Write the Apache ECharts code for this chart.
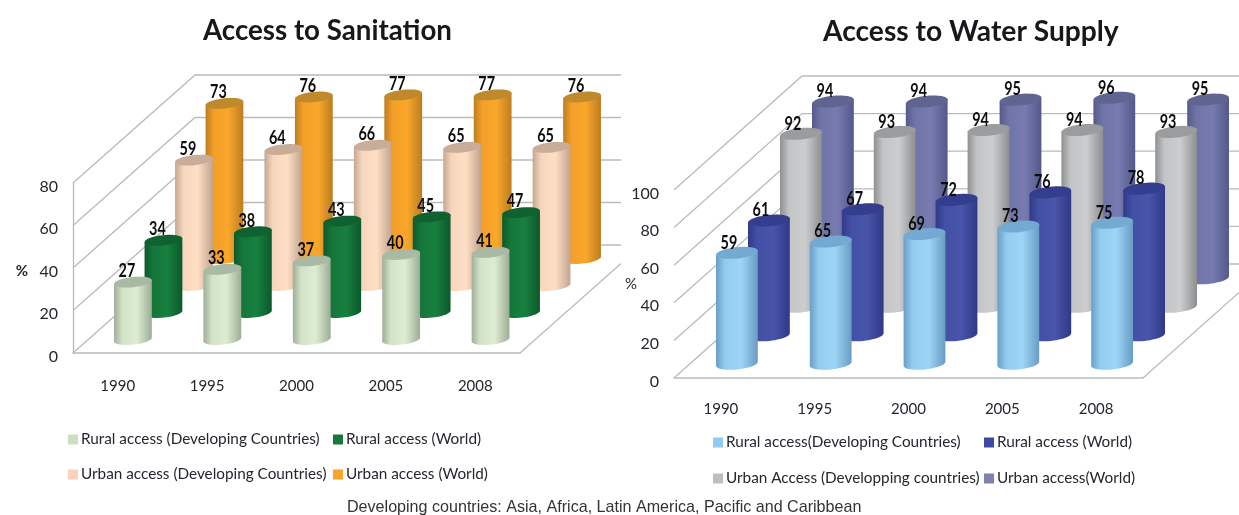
<!DOCTYPE html>
<html>
<head>
<meta charset="utf-8">
<style>html,body{margin:0;padding:0;background:#fff}#chart{width:1239px;height:515px}</style>
<script src="https://cdn.jsdelivr.net/npm/echarts@6/dist/echarts.min.js"></script>
</head>
<body>
<div id="chart"></div>
<script>
// Years shared by both panels
const years = ['1990', '1995', '2000', '2005', '2008'];

// Access to Sanitation (%)
const sanitationRuralDeveloping = [27, 33, 37, 40, 41];
const sanitationRuralWorld = [34, 38, 43, 45, 47];
const sanitationUrbanDeveloping = [59, 64, 66, 65, 65];
const sanitationUrbanWorld = [73, 76, 77, 77, 76];
const sanitationTicks = [0, 20, 40, 60, 80];

// Access to Water Supply (%)
const waterRuralDeveloping = [59, 65, 69, 73, 75];
const waterRuralWorld = [61, 67, 72, 76, 78];
const waterUrbanDeveloping = [92, 93, 94, 94, 93];
const waterUrbanWorld = [94, 94, 95, 96, 95];
const waterTicks = [0, 20, 40, 60, 80, 100];

const FONT = 'Lato, Carlito, sans-serif';
const INK = '#23272e';
const FRAME = '#b9bbbd';
const TILT = 6 * Math.PI / 180;

// Oblique projection of one panel: the depth vector of the floor, its row count and column size
const panels = [
  {
    depthX: 122, depthY: -108, rows: 4, radius: 0.2125, wallEnd: 621,
    labelDx: -6, labelDy: -11,
    grid: {left: 73, top: 183, width: 447, height: 170},
    max: 80, ticks: sanitationTicks, showAxisLine: true, nameGap: 45,
    series: [
      {name: 'Urban access (World)', row: 3, values: sanitationUrbanWorld, swatch: '#f9a32b',
       ramp: ['#bd7e20', '#f39f29', '#faa72b', '#bc7d20'], cap: '#c08a2c'},
      {name: 'Urban access (Developing Countries)', row: 2, values: sanitationUrbanDeveloping, swatch: '#fcd3b9',
       ramp: ['#c5a691', '#f6d6bc', '#fedfc4', '#c2a48f'], cap: '#c9ad99'},
      {name: 'Rural access (World)', row: 1, values: sanitationRuralWorld, swatch: '#15793b',
       ramp: ['#0d5a2c', '#15763a', '#17803f', '#0d582b'], cap: '#0f6230'},
      {name: 'Rural access (Developing Countries)', row: 0, values: sanitationRuralDeveloping, swatch: '#c9dfbd',
       ramp: ['#9fae98', '#d2e3c7', '#deedd2', '#9dac96'], cap: '#a9b9a3'}
    ],
    legend: [
      {name: 'Rural access (Developing Countries)', left: 68, top: 432, color: '#c9dfbd'},
      {name: 'Rural access (World)', left: 333, top: 432, color: '#15793b'},
      {name: 'Urban access (Developing Countries)', left: 68, top: 467, color: '#fcd3b9'},
      {name: 'Urban access (World)', left: 333, top: 467, color: '#f9a32b'}
    ]
  },
  {
    depthX: 128, depthY: -114, rows: 4, radius: 0.224, wallEnd: 1239,
    labelDx: -8, labelDy: -10,
    grid: {left: 674, top: 190, width: 469, height: 188},
    max: 100, ticks: waterTicks, showAxisLine: false, nameGap: 37,
    series: [
      {name: 'Urban access(World)', row: 3, values: waterUrbanWorld, swatch: '#7f81ad',
       ramp: ['#55598a', '#7075a8', '#777bb0', '#54588a'], cap: '#5f6491'},
      {name: 'Urban Access (Developping countries)', row: 2, values: waterUrbanDeveloping, swatch: '#bcbec0',
       ramp: ['#8e9092', '#c2c4c6', '#cbcdcf', '#8c8e90'], cap: '#9a9c9e'},
      {name: 'Rural access (World)', row: 1, values: waterRuralWorld, swatch: '#3c49a2',
       ramp: ['#313a89', '#4250a5', '#4855a9', '#303988'], cap: '#343e8e'},
      {name: 'Rural access(Developing Countries)', row: 0, values: waterRuralDeveloping, swatch: '#90caef',
       ramp: ['#6a9ec6', '#92cdf0', '#9dd5f6', '#699cc4'], cap: '#74aad2'}
    ],
    legend: [
      {name: 'Rural access(Developing Countries)', left: 713, top: 435, color: '#90caef'},
      {name: 'Rural access (World)', left: 984, top: 435, color: '#3c49a2'},
      {name: 'Urban Access (Developping countries)', left: 713, top: 471, color: '#bcbec0'},
      {name: 'Urban access(World)', left: 984, top: 471, color: '#7f81ad'}
    ]
  }
];

// Outline of a tilted ellipse between two angles, as polygon points
function ellipseArc(cx, cy, rx, ry, from, to, steps) {
  const pts = [];
  for (let i = 0; i <= steps; i++) {
    const a = from + (to - from) * i / steps;
    const ex = rx * Math.cos(a), ey = ry * Math.sin(a);
    pts.push([cx + ex * Math.cos(TILT) + ey * Math.sin(TILT),
              cy - ex * Math.sin(TILT) + ey * Math.cos(TILT)]);
  }
  return pts;
}

function rowShift(panel, row) {
  const t = (row + 0.5) / panel.rows;
  return [panel.depthX * t, panel.depthY * t];
}

// Back wall, side lines and floor edge, one polyline per axis tick
function frameSeries(panel, gridIndex) {
  return {
    type: 'custom', name: 'frame' + gridIndex, xAxisIndex: gridIndex, yAxisIndex: gridIndex,
    data: panel.ticks.map(v => [0, v]), silent: true, animation: false,
    encode: {x: 0, y: 1},
    renderItem(params, api) {
      const box = params.coordSys;
      const y = api.coord([0, api.value(1)])[1];
      const backX = box.x + panel.depthX, backY = y + panel.depthY;
      const children = [{
        type: 'polyline',
        shape: {points: [[box.x, y], [backX, backY], [panel.wallEnd, backY]]},
        style: {stroke: FRAME, lineWidth: 1.3, fill: null}
      }];
      if (api.value(1) === 0) {
        const frontRight = box.x + box.width;
        const t = Math.min(1, (panel.wallEnd - frontRight) / panel.depthX);
        children.push({
          type: 'line',
          shape: {x1: frontRight, y1: y, x2: frontRight + panel.depthX * t, y2: y + panel.depthY * t},
          style: {stroke: FRAME, lineWidth: 1.3}
        });
      }
      return {type: 'group', children};
    }
  };
}

// One row of cylinders placed by the axis scales and shifted back along the floor
function cylinderSeries(panel, item, gridIndex) {
  const [shiftX, shiftY] = rowShift(panel, item.row);
  const stops = item.ramp;
  return {
    type: 'custom', name: item.name, xAxisIndex: gridIndex, yAxisIndex: gridIndex,
    itemStyle: {color: item.swatch}, animation: false, silent: true,
    data: item.values.map((v, i) => [i, v]),
    encode: {x: 0, y: 1},
    renderItem(params, api) {
      const cat = api.value(0);
      const top = api.coord([cat, api.value(1)]);
      const base = api.coord([cat, 0]);
      const rx = api.size([1, 0])[0] * panel.radius;
      const ry = rx * 0.27;
      const cx = top[0] + shiftX;
      const topY = top[1] + shiftY, baseY = base[1] + shiftY;
      const rim = ellipseArc(cx, topY, rx, ry, 0, Math.PI, 1);
      const lower = ellipseArc(cx, baseY, rx, ry, Math.PI, 0, 24);
      return {
        type: 'group',
        children: [
          {
            type: 'polygon', shape: {points: rim.concat(lower)},
            style: {
              fill: new echarts.graphic.LinearGradient(0, 0, 1, 0, [
                {offset: 0, color: stops[0]}, {offset: 0.22, color: stops[1]},
                {offset: 0.6, color: stops[2]}, {offset: 1, color: stops[3]}
              ])
            }
          },
          {
            type: 'polygon',
            shape: {points: ellipseArc(cx, topY, rx, ry, 0, Math.PI * 2, 40)},
            style: {fill: item.cap}
          }
        ]
      };
    }
  };
}

// Value labels sit above every column, in front of the rows around them
function labelSeries(panel, item, gridIndex) {
  const [shiftX, shiftY] = rowShift(panel, item.row);
  return {
    type: 'custom', name: 'values ' + gridIndex + '-' + item.row, xAxisIndex: gridIndex, yAxisIndex: gridIndex,
    animation: false, silent: true,
    data: item.values.map((v, i) => [i, v]),
    encode: {x: 0, y: 1},
    renderItem(params, api) {
      const value = api.value(1);
      const p = api.coord([api.value(0), value]);
      return {
        type: 'text',
        x: p[0] + shiftX + panel.labelDx, y: p[1] + shiftY + panel.labelDy,
        scaleX: 0.8,
        style: {
          text: String(value), fill: '#0d0d0d', align: 'center', verticalAlign: 'middle',
          fontFamily: FONT, fontWeight: 'bold', fontSize: 18
        }
      };
    }
  };
}

const series = [];
panels.forEach((panel, i) => series.push(frameSeries(panel, i)));
panels.forEach((panel, i) => panel.series.forEach(item => series.push(cylinderSeries(panel, item, i))));
panels.forEach((panel, i) => panel.series.forEach(item => series.push(labelSeries(panel, item, i))));

const legends = [];
panels.forEach(panel => panel.legend.forEach(entry => legends.push({
  data: [{name: entry.name, itemStyle: {color: entry.color}}], left: entry.left, top: entry.top,
  icon: 'rect', itemWidth: 10, itemHeight: 10, padding: 0, selectedMode: false,
  textStyle: {fontFamily: FONT, fontSize: 15.3, color: INK, padding: [0, 0, 0, -2]}
})));

const chart = echarts.init(document.getElementById('chart'));
chart.setOption({
  backgroundColor: '#fff',
  animation: false,
  title: [
    {text: 'Access to Sanitation', left: 203, top: 17, padding: 0,
     textStyle: {fontFamily: FONT, fontWeight: 'bold', fontSize: 27.7, color: '#16181c'}},
    {text: 'Access to Water Supply', left: 823, top: 18, padding: 0,
     textStyle: {fontFamily: FONT, fontWeight: 'bold', fontSize: 28.2, color: '#16181c'}},
    {text: 'Developing countries: Asia, Africa, Latin America, Pacific and Caribbean', left: 347, top: 500, padding: 0,
     textStyle: {fontFamily: '"Liberation Sans", Arial, sans-serif', fontWeight: 'normal', fontSize: 16.1, color: '#333'}}
  ],
  legend: legends,
  grid: panels.map(p => p.grid),
  xAxis: panels.map((p, i) => ({
    type: 'category', gridIndex: i, data: years,
    axisTick: {show: false},
    axisLine: {lineStyle: {color: FRAME, width: 1.5}},
    axisLabel: {margin: i ? 24 : 26, fontFamily: FONT, fontSize: 15, color: INK}
  })),
  yAxis: panels.map((p, i) => ({
    type: 'value', gridIndex: i, min: 0, max: p.max, interval: 20,
    splitLine: {show: false}, axisTick: {show: false},
    axisLine: {show: p.showAxisLine, lineStyle: {color: FRAME, width: 1.3}},
    axisLabel: {margin: 15, fontFamily: FONT, fontSize: 16, color: INK, verticalAlign: 'top', lineHeight: 7},
    name: '%', nameLocation: 'middle', nameRotate: 0, nameGap: p.nameGap, nameMoveOverlap: false,
    nameTextStyle: {fontFamily: FONT, fontSize: 15, fontWeight: i ? 'normal' : 'bold', color: INK,
      verticalAlign: i ? 'middle' : 'top', lineHeight: i ? 18 : 7}
  })),
  series
});
</script>
</body>
</html>
